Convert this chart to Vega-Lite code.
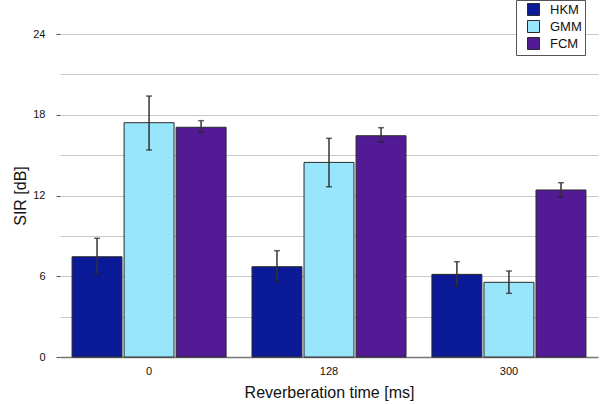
{
  "$schema": "https://vega.github.io/schema/vega-lite/v6.json",
  "autosize": "none",
  "width": 538,
  "height": 323,
  "padding": {"left": 60, "top": 34, "right": 2, "bottom": 47},
  "background": "white",
  "config": {
    "view": {"stroke": null},
    "font": "Liberation Sans",
    "axis": {"labelFont": "Liberation Sans", "titleFont": "Liberation Sans", "titleFontWeight": "normal", "labelColor": "#111", "titleColor": "#111"}
  },
  "data": {
    "values": [
      {"time": "0", "method": "HKM", "value": 7.45, "lo": 6.14, "hi": 8.82},
      {"time": "0", "method": "GMM", "value": 17.41, "lo": 15.38, "hi": 19.39},
      {"time": "0", "method": "FCM", "value": 17.07, "lo": 16.69, "hi": 17.56},
      {"time": "128", "method": "HKM", "value": 6.71, "lo": 5.67, "hi": 7.9},
      {"time": "128", "method": "GMM", "value": 14.46, "lo": 12.65, "hi": 16.25},
      {"time": "128", "method": "FCM", "value": 16.44, "lo": 15.97, "hi": 17.04},
      {"time": "300", "method": "HKM", "value": 6.14, "lo": 5.27, "hi": 7.08},
      {"time": "300", "method": "GMM", "value": 5.55, "lo": 4.73, "hi": 6.39},
      {"time": "300", "method": "FCM", "value": 12.41, "lo": 11.91, "hi": 12.95}
    ]
  },
  "encoding": {
    "x": {
      "field": "time", "type": "nominal", "sort": ["0", "128", "300"],
      "scale": {"paddingInner": 0.144, "paddingOuter": 0.067},
      "axis": {
        "title": "Reverberation time [ms]", "labelAngle": 0, "ticks": false,
        "labelFontSize": 11, "labelPadding": 8, "titleFontSize": 16, "titlePadding": 8,
        "domainColor": "#777", "domainWidth": 1.5, "grid": false
      }
    },
    "xOffset": {
      "field": "method", "type": "nominal", "sort": ["HKM", "GMM", "FCM"],
      "scale": {"paddingInner": 0.04, "paddingOuter": 0}
    }
  },
  "layer": [
    {
      "mark": {"type": "bar", "stroke": "#2a2a2a", "strokeWidth": 1},
      "encoding": {
        "y": {
          "field": "value", "type": "quantitative",
          "scale": {"domain": [0, 24], "nice": false},
          "axis": {
            "title": "SIR [dB]", "values": [0, 3, 6, 9, 12, 15, 18, 21, 24],
            "labelExpr": "datum.value % 6 === 0 ? datum.label : ''",
            "tickOpacity": {"condition": {"test": "datum.value % 6 === 0", "value": 1}, "value": 0},
            "tickColor": "#555", "tickSize": 4, "labelPadding": 11,
            "labelFontSize": 11, "titleFontSize": 16, "titlePadding": 4,
            "domain": false, "grid": true, "gridColor": "#c8c8c8", "gridWidth": 1
          }
        },
        "color": {
          "field": "method", "type": "nominal", "sort": ["HKM", "GMM", "FCM"],
          "scale": {"domain": ["HKM", "GMM", "FCM"], "range": ["#0b1a96", "#98e6fc", "#531a96"]},
          "legend": {
            "title": null, "orient": "none", "legendX": 456, "legendY": -34,
            "symbolType": "square", "symbolSize": 144, "symbolStrokeColor": "#2a2a2a", "symbolStrokeWidth": 1,
            "symbolOffset": 8,
            "labelFontSize": 13, "labelFont": "Liberation Sans", "labelColor": "#111",
            "labelExpr": "datum.label + '\u00a0\u00a0\u00a0\u00a0'",
            "strokeColor": "#555", "fillColor": "white", "padding": 3, "rowPadding": 0, "labelOffset": 10
          }
        }
      }
    },
    {
      "mark": {"type": "rule", "color": "#333", "strokeWidth": 1.5},
      "encoding": {
        "y": {"field": "lo", "type": "quantitative"},
        "y2": {"field": "hi"}
      }
    },
    {
      "mark": {"type": "tick", "color": "#222", "size": 6, "thickness": 1.5},
      "encoding": {"y": {"field": "lo", "type": "quantitative"}}
    },
    {
      "mark": {"type": "tick", "color": "#222", "size": 6, "thickness": 1.5},
      "encoding": {"y": {"field": "hi", "type": "quantitative"}}
    }
  ]
}
